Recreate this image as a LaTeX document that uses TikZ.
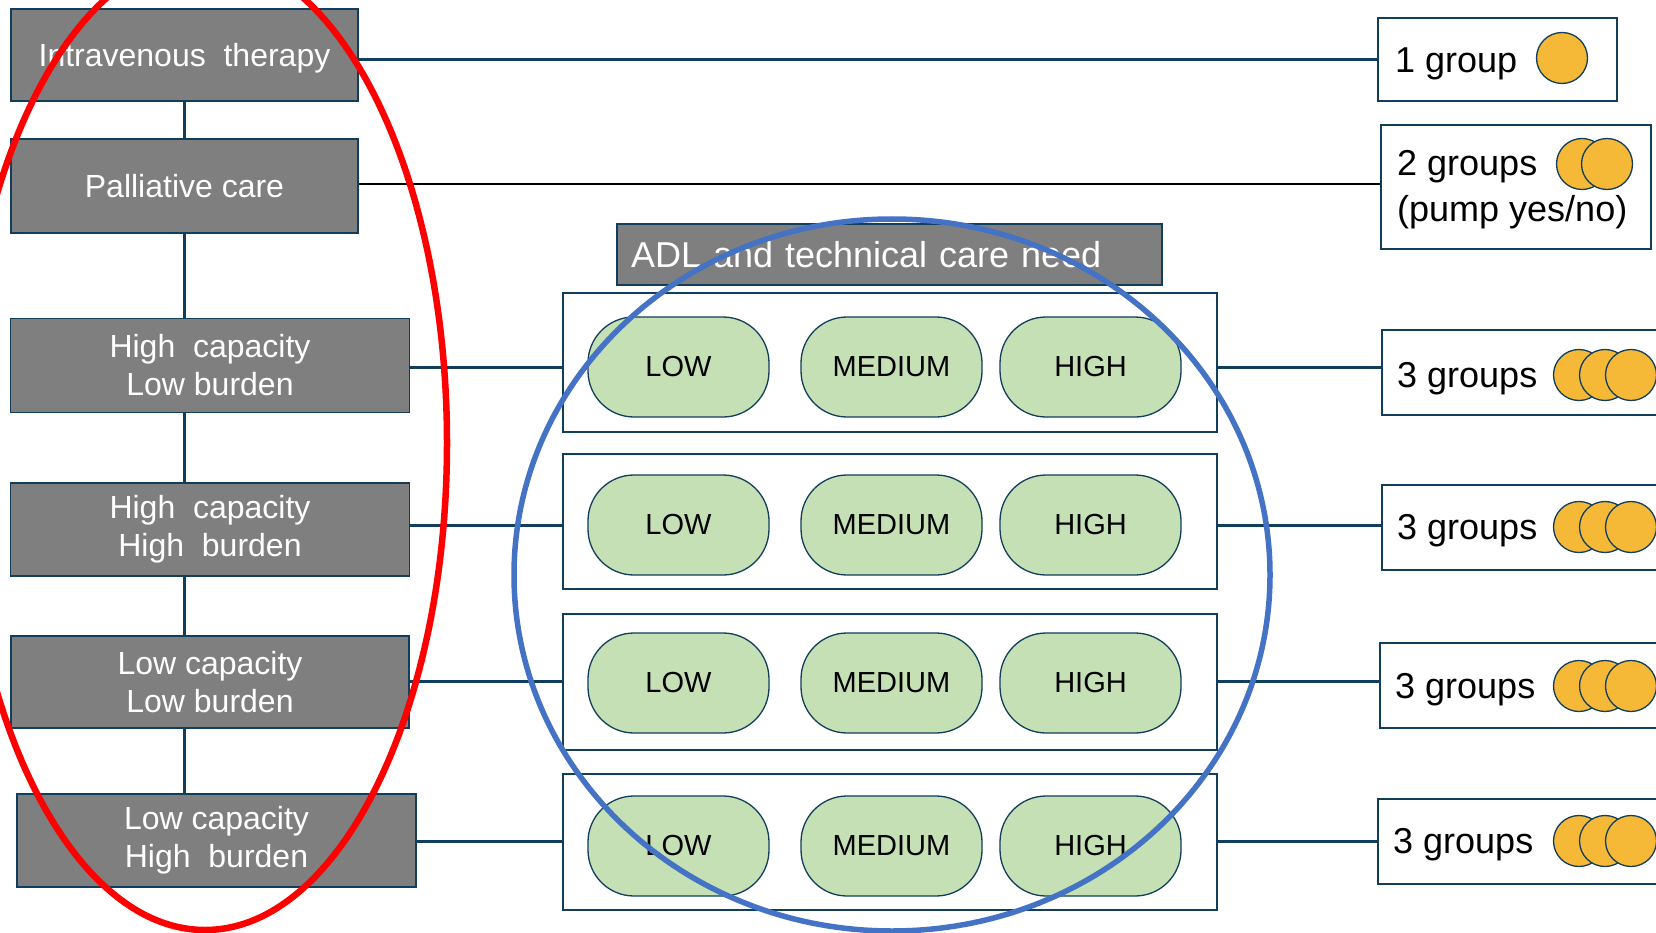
\documentclass[tikz,border=0pt]{standalone}
\usepackage{fontspec}
\setmainfont{Liberation Sans}
\definecolor{navy}{RGB}{16,62,92}
\definecolor{boxgray}{RGB}{127,127,127}
\definecolor{pillgreen}{RGB}{197,224,180}
\definecolor{coinyellow}{RGB}{246,185,55}
\definecolor{ringblue}{RGB}{68,114,196}
\tikzset{
  graybox/.style={draw=navy, line width=1.5pt, fill=boxgray, text=white, inner sep=0pt,
    align=center, font=\fontsize{32}{38}\selectfont},
  rowbox/.style={draw=navy, line width=1.5pt, fill=white, inner sep=0pt,
    minimum width=654pt},
  pill/.style={draw=navy, line width=1.3pt, fill=pillgreen, rounded corners=46pt,
    minimum width=181pt, minimum height=100pt, inner sep=0pt,
    font=\fontsize{29}{34}\selectfont},
  groupbox/.style={draw=navy, line width=1.5pt, fill=white, inner sep=0pt},
  grouptext/.style={anchor=base west, inner sep=0pt, font=\fontsize{36}{43}\selectfont},
  coin/.style={circle, draw=navy, line width=1.3pt, fill=coinyellow, minimum size=51pt, inner sep=0pt},
  conn/.style={draw=navy, line width=3pt},
  thinconn/.style={draw=black, line width=1.5pt},
}
\begin{document}
\begin{tikzpicture}[x=1pt,y=-1pt]
\useasboundingbox (0,0) rectangle (1656,933);
\begin{scope}
\clip (0,0) rectangle (1656,933);
\fill[white] (0,0) rectangle (1656,933);

% left boxes
\node[graybox, minimum width=347pt, minimum height=92pt, text depth=0pt] (iv) at (184.5,55) {Intravenous\ \ therapy};
\node[graybox, minimum width=347pt, minimum height=94pt] (pal) at (184.5,186) {Palliative care};
\node[graybox, minimum width=399pt, minimum height=94pt] (hclb) at (210,365.5) {High\ \ capacity\\Low burden};
\node[graybox, minimum width=399pt, minimum height=93pt] (hchb) at (210,529.5) {High\ \ capacity\\High\ \ burden};
\node[graybox, minimum width=398pt, minimum height=92pt] (lclb) at (210,682) {Low capacity\\Low burden};
\node[graybox, minimum width=399pt, minimum height=93pt] (lchb) at (216.5,840.5) {Low capacity\\High\ \ burden};

% connector levels
\coordinate (c1) at (0,367);
\coordinate (c2) at (0,525);
\coordinate (c3) at (0,681);
\coordinate (c4) at (0,841);
\coordinate (c0) at (0,184);

% middle header and rows
\node[draw=navy, line width=1.5pt, fill=boxgray, text=white, inner xsep=14pt, inner ysep=0pt,
  text width=517pt, align=left, minimum height=61pt, font=\fontsize{36}{42}\selectfont]
  (adl) at (889.5,254.5) {ADL and technical care need};
\node[rowbox, minimum height=139pt] (row1) at (890,362.5) {};
\node[rowbox, minimum height=135pt] (row2) at (890,521.5) {};
\node[rowbox, minimum height=136pt] (row3) at (890,682) {};
\node[rowbox, minimum height=136pt] (row4) at (890,842) {};

\foreach \r/\y in {1/367,2/525,3/683,4/846}{
  \node[pill] (low\r) at (678.5,\y) {LOW};
  \node[pill] (med\r) at (891.5,\y) {MEDIUM};
  \node[pill] (high\r) at (1090.5,\y) {HIGH};
}

% right boxes
\node[groupbox, minimum width=239pt, minimum height=83pt] (g1) at (1497.5,59.5) {};
\node[grouptext] (g1t) at (1395,73) {1 group};
\node[coin] (g1c1) at (1562,58) {};

\node[groupbox, minimum width=270pt, minimum height=124pt] (g2) at (1516,187) {};
\node[grouptext] (g2t) at (1397,176) {2 groups};
\node[grouptext] (g2u) at (1397,222) {(pump yes/no)};
\node[coin] (g2c1) at (1582,164) {};
\node[coin] (g2c2) at (1607,164) {};

\foreach \r/\x/\top/\bot/\cy in {3/1381/329/414/375, 4/1381/484/569/527, 5/1379/642/727/686, 6/1377/798/883/841}{
  \node[groupbox, minimum width=330pt, minimum height=\bot-\top, anchor=north west] (g\r) at (\x,\top) {};
  \node[grouptext] (g\r t) at (\x+16,\cy+12) {3 groups};
  \node[coin] (g\r c1) at (1579,\cy) {};
  \node[coin] (g\r c2) at (1605,\cy) {};
  \node[coin] (g\r c3) at (1631,\cy) {};
}

% connectors
\draw[conn] (iv.south) -- (iv.south |- pal.north);
\draw[conn] (iv.south |- pal.south) -- (iv.south |- hclb.north);
\draw[conn] (iv.south |- hclb.south) -- (iv.south |- hchb.north);
\draw[conn] (iv.south |- hchb.south) -- (iv.south |- lclb.north);
\draw[conn] (iv.south |- lclb.south) -- (iv.south |- lchb.north);

\draw[conn] (iv.east |- g1.west) -- (g1.west);
\draw[thinconn] (pal.east |- c0) -- (g2.west |- c0);

\draw[conn] (hclb.east |- c1) -- (row1.west |- c1);
\draw[conn] (hchb.east |- c2) -- (row2.west |- c2);
\draw[conn] (lclb.east |- c3) -- (row3.west |- c3);
\draw[conn] (lchb.east |- c4) -- (row4.west |- c4);

\draw[conn] (row1.east |- c1) -- (g3.west |- c1);
\draw[conn] (row2.east |- c2) -- (g4.west |- c2);
\draw[conn] (row3.east |- c3) -- (g5.west |- c3);
\draw[conn] (row4.east |- c4) -- (g6.west |- c4);

% highlight ellipses
\draw[red, line width=6.5pt] (205,443) ellipse [x radius=242pt, y radius=487pt];
\draw[ringblue, line width=5.5pt] (892,575) ellipse [x radius=378pt, y radius=356pt];
\end{scope}
\end{tikzpicture}
\end{document}
